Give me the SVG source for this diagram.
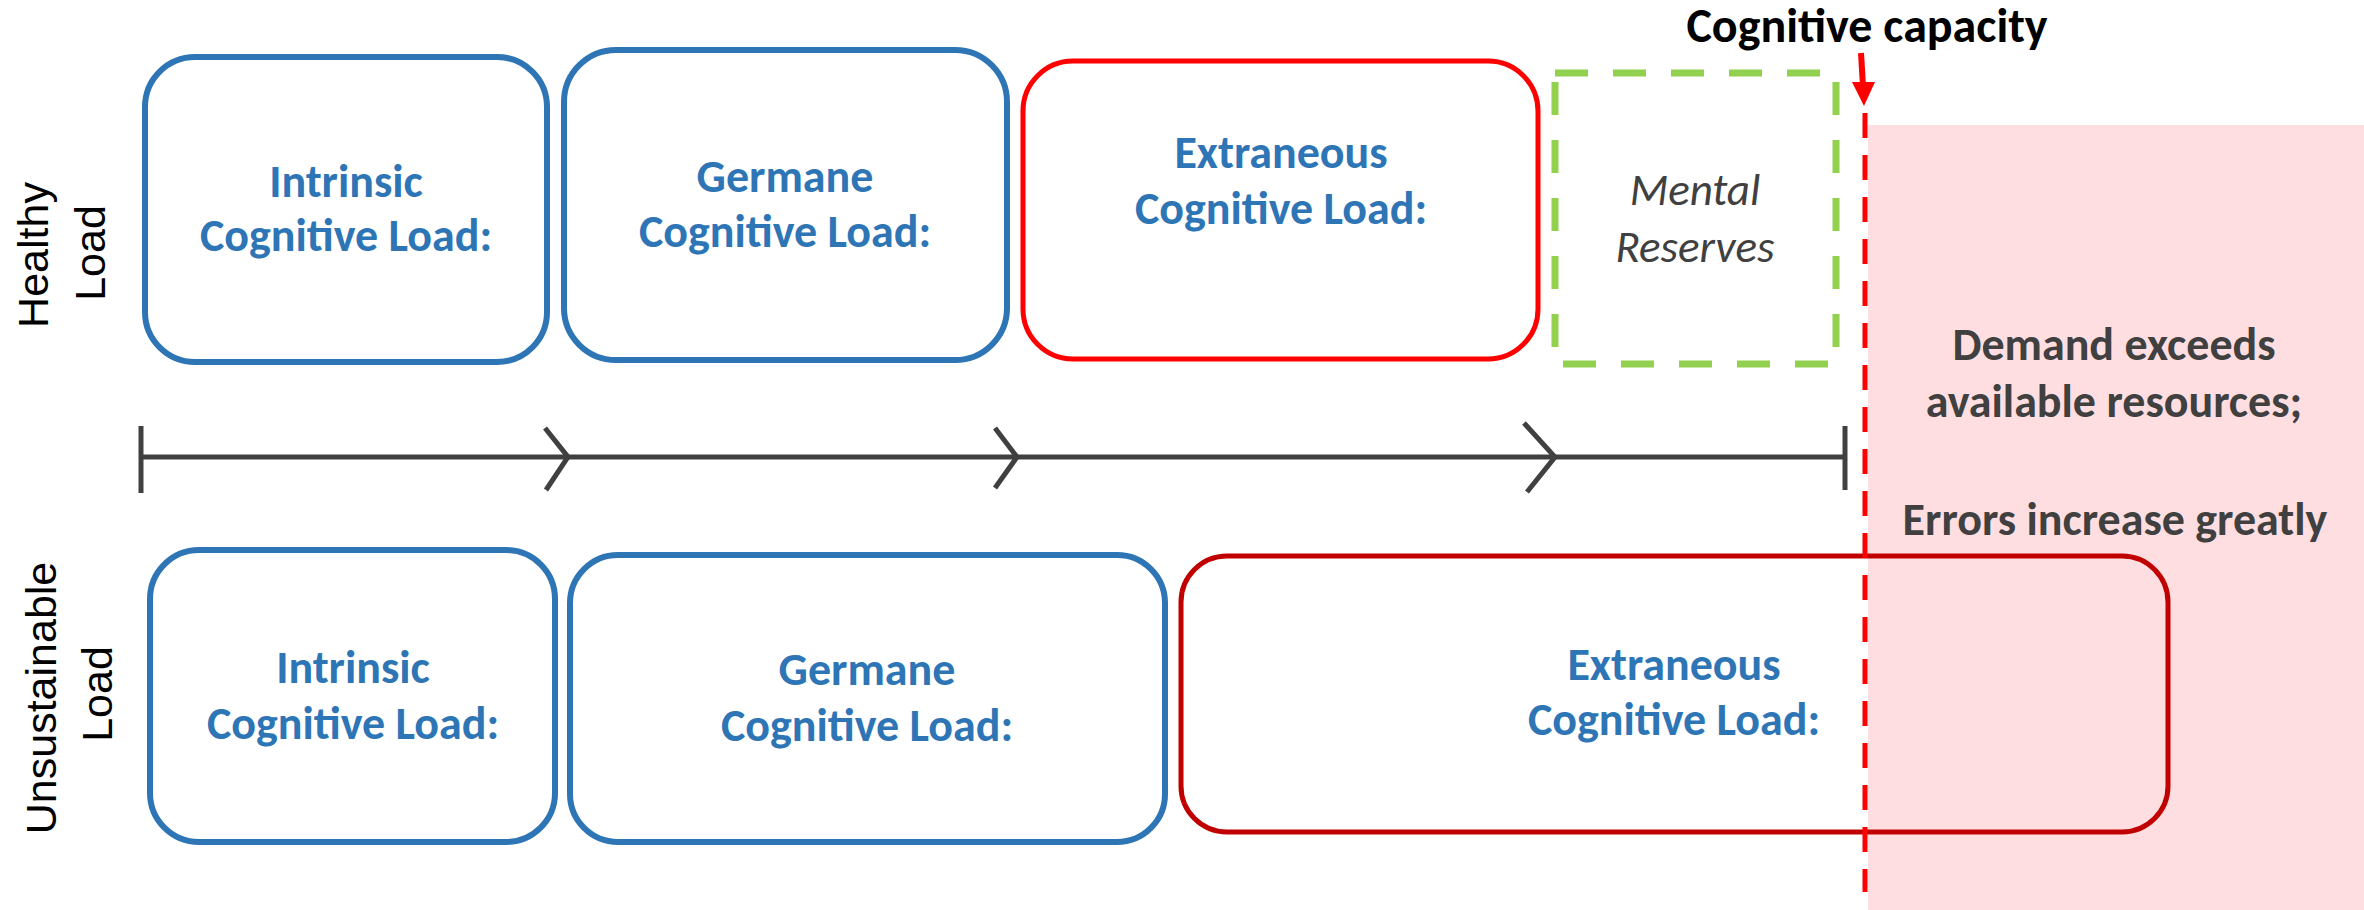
<svg xmlns="http://www.w3.org/2000/svg" width="2364" height="910" viewBox="0 0 2364 910">
  <style>
    .box { fill: none; stroke-width: 6; }
    .blue { stroke: #2E75B6; }
    .red { stroke: #FF0000; stroke-width: 5; }
    .dkred { stroke: #C00000; stroke-width: 5; }
    .reserve { fill: none; stroke: #92D050; stroke-width: 7; stroke-dasharray: 33 25; }
    .lbl { font-family: Carlito, "Liberation Sans Narrow", "Open Sans", sans-serif; font-weight: bold; font-size: 46px; fill: #2E75B6; text-anchor: middle; }
    .note { font-family: Carlito, "Liberation Sans Narrow", "Open Sans", sans-serif; font-weight: bold; font-size: 46px; fill: #404040; text-anchor: middle; }
    .italic { font-family: Carlito, "Liberation Sans Narrow", "Open Sans", sans-serif; font-style: italic; font-size: 45px; fill: #404040; text-anchor: middle; }
    .side { font-family: "Liberation Sans", Arial, sans-serif; font-size: 43px; fill: #000000; text-anchor: middle; }
    .axis { fill: none; stroke: #404040; stroke-width: 5; }
  </style>

  <!-- overload zone beyond capacity -->
  <rect id="overload-zone" x="1868" y="125" width="496" height="785" fill="#FFDEE1"/>

  <!-- row labels -->
  <g id="label-healthy">
    <text class="side" transform="translate(48,255) rotate(-90)">Healthy</text>
    <text class="side" transform="translate(105,253) rotate(-90)">Load</text>
  </g>
  <g id="label-unsustainable">
    <text class="side" transform="translate(56,698) rotate(-90)">Unsustainable</text>
    <text class="side" transform="translate(112,694) rotate(-90)">Load</text>
  </g>

  <!-- healthy row -->
  <g id="healthy-intrinsic">
    <rect class="box blue" x="145" y="57" width="402" height="305" rx="50" ry="50"/>
    <text class="lbl" x="346" y="197">Intrinsic</text>
    <text class="lbl" x="346" y="251">Cognitive Load:</text>
  </g>
  <g id="healthy-germane">
    <rect class="box blue" x="564" y="50" width="443" height="310" rx="52" ry="52"/>
    <text class="lbl" x="785" y="192">Germane</text>
    <text class="lbl" x="785" y="247">Cognitive Load:</text>
  </g>
  <g id="healthy-extraneous">
    <rect class="box red" x="1023" y="61" width="515" height="298" rx="50" ry="50"/>
    <text class="lbl" x="1281" y="168">Extraneous</text>
    <text class="lbl" x="1281" y="224">Cognitive Load:</text>
  </g>
  <g id="mental-reserves">
    <rect class="reserve" x="1555" y="73" width="281" height="291"/>
    <text class="italic" x="1695" y="205">Mental</text>
    <text class="italic" x="1695" y="262">Reserves</text>
  </g>

  <!-- timeline axis -->
  <g id="connectors">
    <line class="axis" x1="141" y1="457" x2="1845" y2="457"/>
    <line class="axis" x1="141" y1="426" x2="141" y2="493"/>
    <line class="axis" x1="1845" y1="426" x2="1845" y2="490"/>
    <polyline class="axis" points="545,428 568,457 546,490"/>
    <polyline class="axis" points="995,428 1017,457 995,488"/>
    <polyline class="axis" points="1524,423 1555,457 1527,492"/>
  </g>

  <!-- unsustainable row -->
  <g id="unsustainable-intrinsic">
    <rect class="box blue" x="150" y="550" width="405" height="292" rx="49" ry="49"/>
    <text class="lbl" x="353" y="683">Intrinsic</text>
    <text class="lbl" x="353" y="739">Cognitive Load:</text>
  </g>
  <g id="unsustainable-germane">
    <rect class="box blue" x="570" y="555" width="595" height="287" rx="48" ry="48"/>
    <text class="lbl" x="867" y="685">Germane</text>
    <text class="lbl" x="867" y="741">Cognitive Load:</text>
  </g>
  <g id="unsustainable-extraneous">
    <rect class="box dkred" x="1181" y="556" width="987" height="276" rx="46" ry="46"/>
    <text class="lbl" x="1674" y="680">Extraneous</text>
    <text class="lbl" x="1674" y="735">Cognitive Load:</text>
  </g>

  <!-- capacity limit -->
  <g id="capacity">
    <text x="1867" y="42" font-family="Carlito, 'Liberation Sans Narrow', 'Open Sans', sans-serif" font-weight="bold" font-size="48" fill="#000000" text-anchor="middle">Cognitive capacity</text>
    <line x1="1861" y1="53" x2="1863" y2="86" stroke="#FF0000" stroke-width="6"/>
    <polygon points="1852,82 1875,82 1864,106" fill="#FF0000"/>
    <line x1="1865" y1="113" x2="1865" y2="892" stroke="#FF0000" stroke-width="5" stroke-dasharray="25 17"/>
  </g>

  <g id="overload-note">
    <text class="note" x="2114" y="360">Demand exceeds</text>
    <text class="note" x="2114" y="417">available resources;</text>
    <text class="note" x="2115" y="535">Errors increase greatly</text>
  </g>
</svg>
